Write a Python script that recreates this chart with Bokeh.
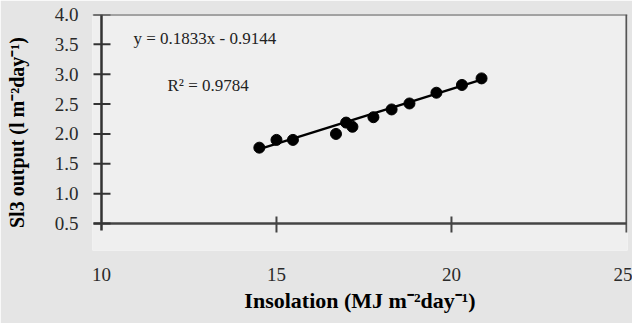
import numpy as np
from bokeh.plotting import figure
from bokeh.models import Span, FixedTicker, Label
from bokeh.embed import file_html
from bokeh.resources import INLINE

# Data
insolation = [14.51, 15.0, 15.47, 16.70, 16.99, 17.17, 17.77, 18.29, 18.80, 19.57, 20.30, 20.86]
output = [1.77, 1.90, 1.90, 2.00, 2.19, 2.12, 2.28, 2.41, 2.51, 2.69, 2.82, 2.93]
slope = 0.1833
intercept = -0.9144
x_ticks = [10, 15, 20, 25]
y_ticks = [0.5, 1.0, 1.5, 2.0, 2.5, 3.0, 3.5, 4.0]
y_tick_labels = ["0.5", "1.0", "1.5", "2.0", "2.5", "3.0", "3.5", "4.0"]

SERIF = "Liberation Serif"

p = figure(width=632, height=323, output_backend="svg", toolbar_location=None,
           x_range=(9.743, 25.03), y_range=(0.048, 4.0),
           min_border_left=92, min_border_right=5, min_border_top=14, min_border_bottom=73)
p.background_fill_color = "#efefef"
p.border_fill_color = "#e5e5e5"
p.outline_line_color = None
p.grid.visible = False

for ax in (p.xaxis[0], p.yaxis[0]):
    ax.axis_line_color = None
    ax.major_tick_line_color = None
    ax.minor_tick_line_color = None
    ax.major_label_text_font = SERIF
    ax.major_label_text_font_size = "19px"
    ax.major_label_text_color = "#2a2a2a"
    ax.axis_label_text_font = SERIF
    ax.axis_label_text_font_style = "bold"
    ax.axis_label_text_color = "black"

p.xaxis.ticker = FixedTicker(ticks=x_ticks)
p.yaxis.ticker = FixedTicker(ticks=y_ticks)
p.yaxis.major_label_overrides = {t: l for t, l in zip(y_ticks, y_tick_labels)}
p.xaxis.major_label_standoff = 11
p.yaxis.major_label_standoff = 8
p.xaxis.axis_label = "Insolation (MJ m⁻²day⁻¹)"
p.xaxis.axis_label_text_font_size = "22px"
p.xaxis.axis_label_standoff = 4
p.yaxis.axis_label = "Sl3 output (l m⁻²day⁻¹)"
p.yaxis.axis_label_text_font_size = "20px"
p.yaxis.axis_label_standoff = 24

# frame lines: top and right
p.add_layout(Span(location=4.0, dimension="width", line_color="#555555", line_width=2))
px = 5.0 / 175.0   # data per pixel (x)
py = 0.5 / 29.86   # data per pixel (y)
x0, y0 = x_ticks[0], y_ticks[0]
xmax, ymax = x_ticks[-1], y_ticks[-1]
p.segment(x0=[xmax], y0=[ymax], x1=[xmax], y1=[y0 - 9 * py], line_color="#555555", line_width=2)
# axis lines
p.segment(x0=[x0], y0=[ymax], x1=[x0], y1=[y0 - 7 * py], line_color="#333333", line_width=2.5)
p.segment(x0=[x0 - 8 * px], y0=[y0], x1=[xmax], y1=[y0], line_color="#444444", line_width=2.5)
# tick marks
p.segment(x0=[x0 - 8 * px] * len(y_ticks), y0=y_ticks, x1=[x0 + 9 * px] * len(y_ticks), y1=y_ticks,
          line_color="#333333", line_width=2)
p.segment(x0=x_ticks[1:3], y0=[y0 + 7 * py] * 2, x1=x_ticks[1:3], y1=[y0 - 9 * py] * 2,
          line_color="#444444", line_width=2)

# trend line
xs = np.array([min(insolation), max(insolation)])
p.line(xs, slope * xs + intercept, line_color="black", line_width=2.5)
p.scatter(insolation, output, size=11, color="black")

# equation texts
p.add_layout(Label(x=10.914, y=3.598, text="y = 0.1833x - 0.9144", text_font=SERIF,
                   text_font_size="17px", text_baseline="middle", text_color="#222222"))
p.add_layout(Label(x=11.886, y=2.811, text="R² = 0.9784", text_font=SERIF,
                   text_font_size="17px", text_baseline="middle", text_color="#222222"))

open("out.html", "w").write(file_html(p, INLINE))
